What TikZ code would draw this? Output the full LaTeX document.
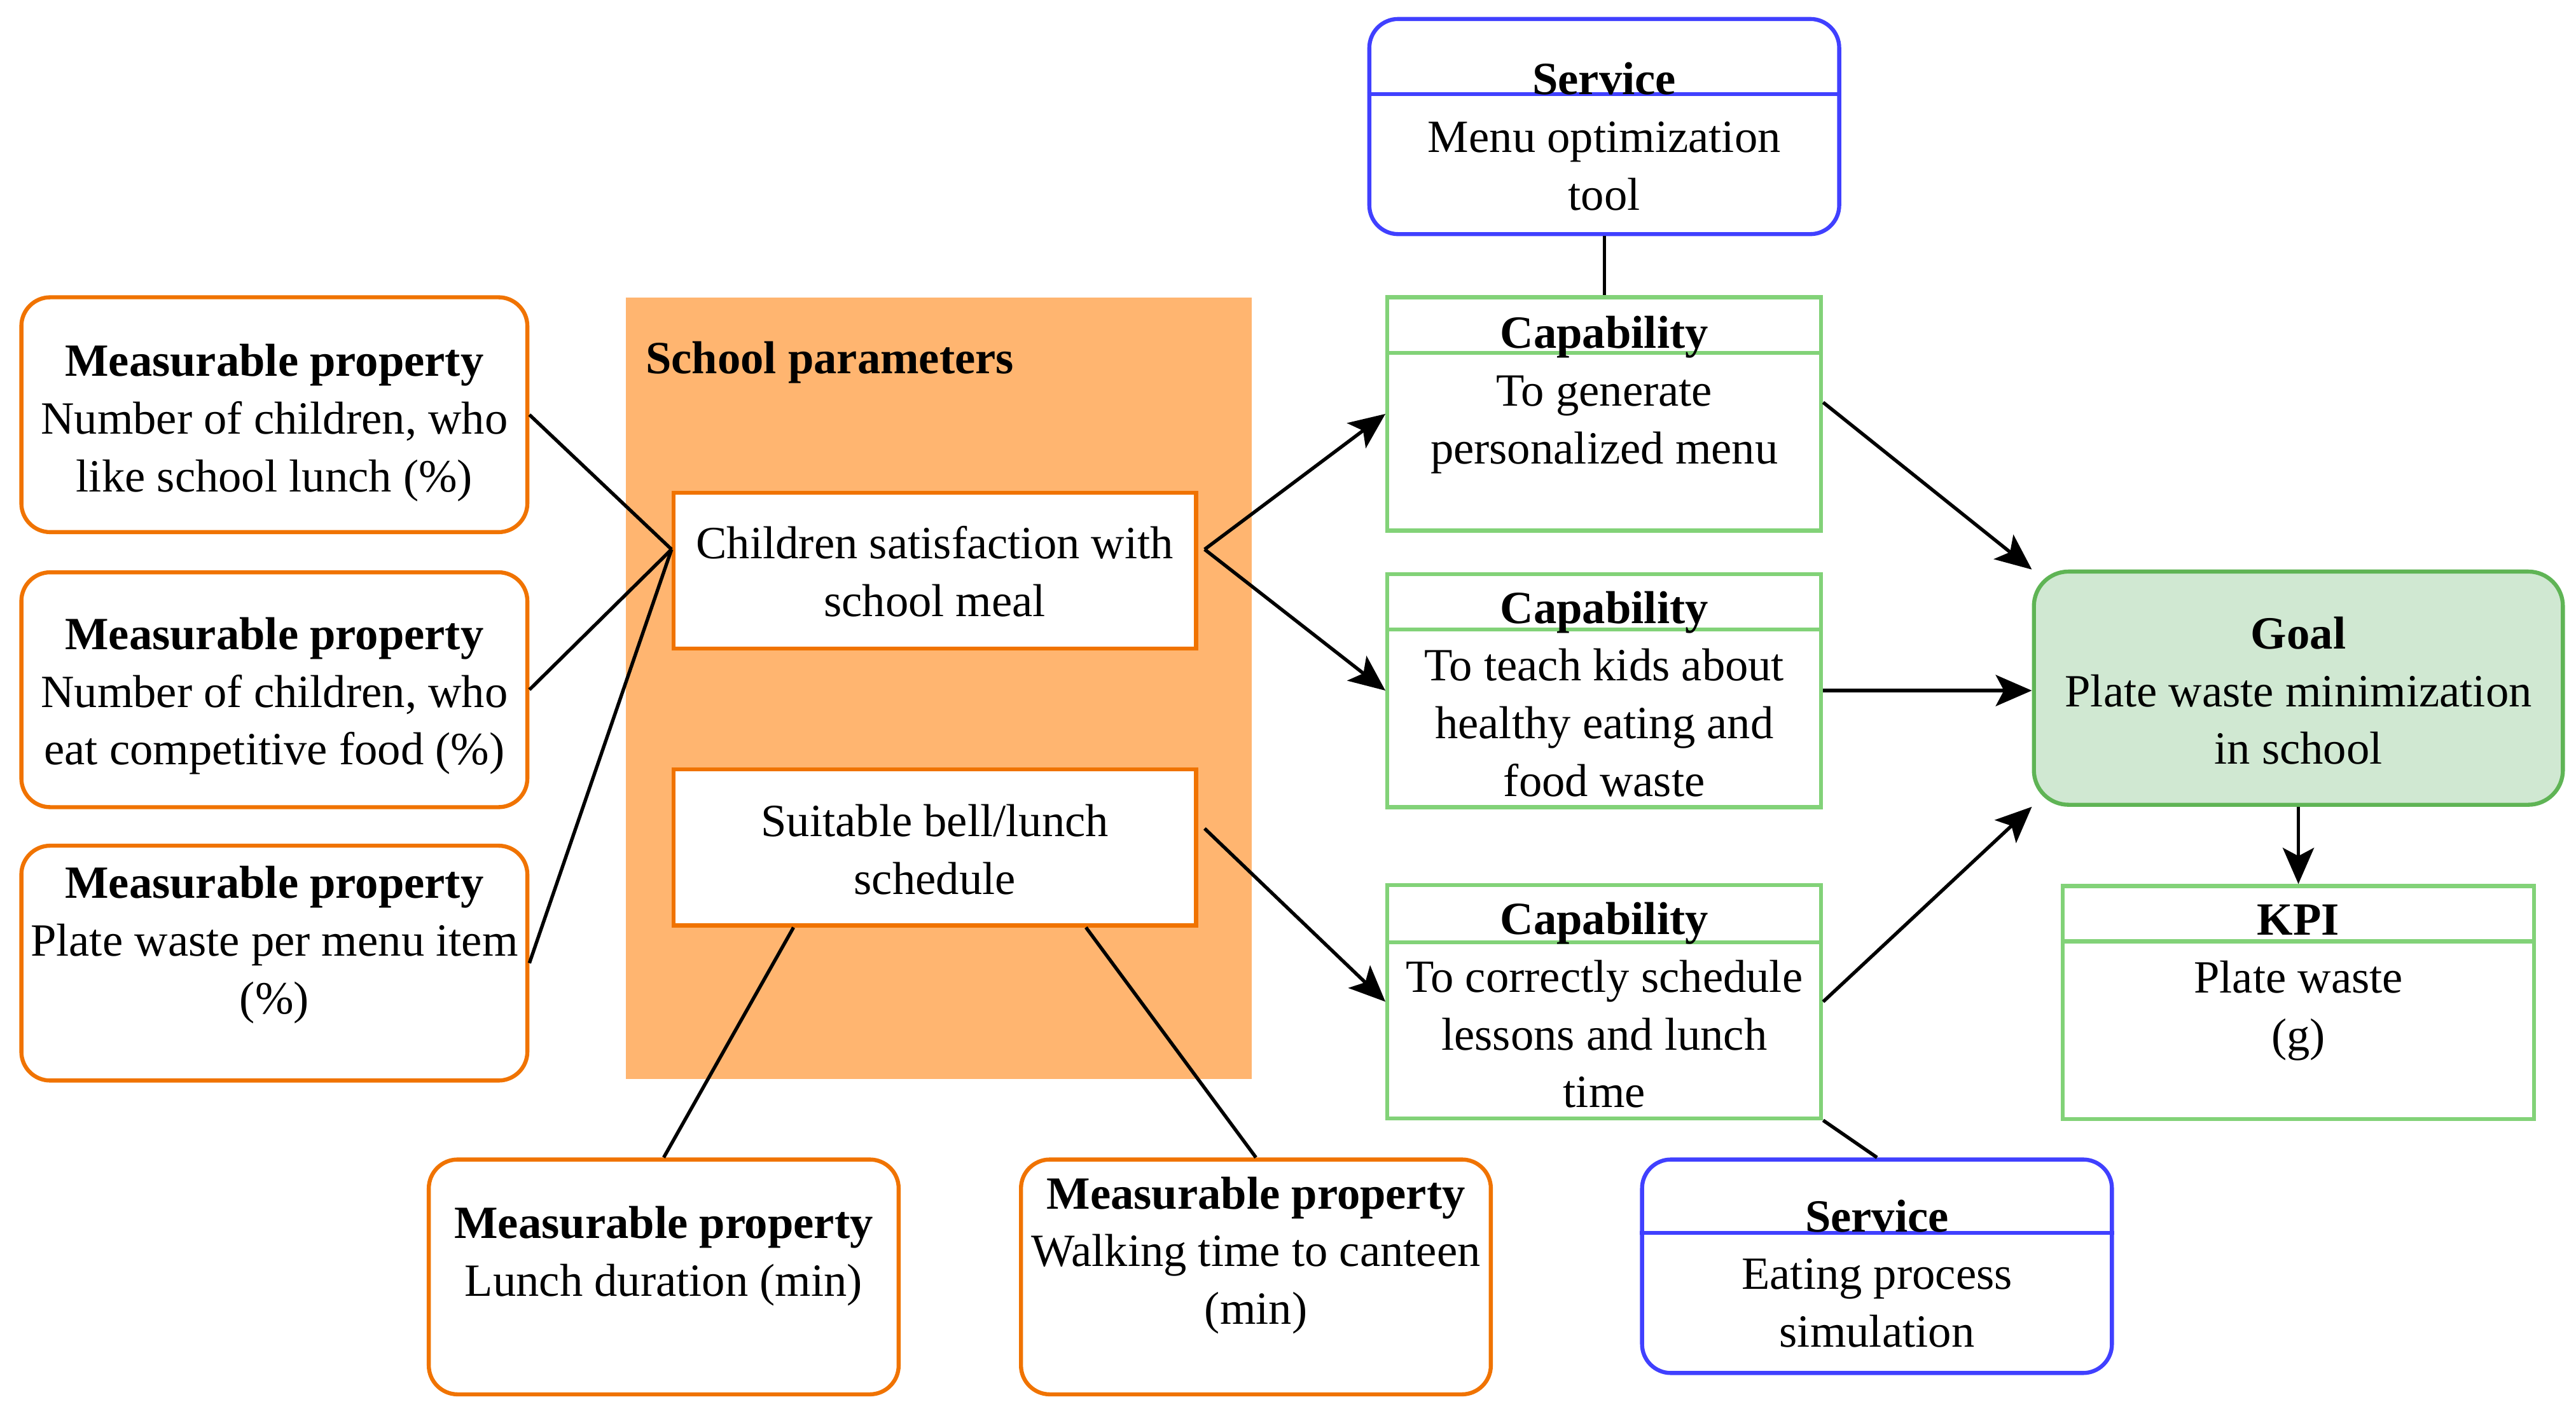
\documentclass[tikz,border=0pt]{standalone}
\usepackage{fontspec}
\setmainfont{Liberation Serif}
\usepackage{tikz}
\usetikzlibrary{arrows.meta, positioning}
\definecolor{mporange}{RGB}{240, 115, 0}
\definecolor{paramfill}{RGB}{255, 181, 112}
\definecolor{capgreen}{RGB}{130, 210, 120}
\definecolor{svcblue}{RGB}{64, 64, 255}
\definecolor{goalfill}{RGB}{208, 232, 210}
\definecolor{goalgreen}{RGB}{95, 180, 85}

\begin{document}
\begin{tikzpicture}[
  font=\fontsize{8}{10}\selectfont,
  mpbox/.style={draw=mporange, line width=0.7pt, rounded corners=5pt,
                minimum width=3.08cm, minimum height=1.43cm, inner sep=0pt},
  parambox/.style={fill=paramfill, minimum width=3.81cm, minimum height=4.76cm, inner sep=0pt},
  innerbox/.style={draw=mporange, fill=white, line width=0.7pt,
                   minimum width=3.18cm, minimum height=0.95cm, inner sep=0pt},
  capbox/.style={draw=capgreen, line width=0.7pt, minimum width=2.64cm,
                 minimum height=1.42cm, inner sep=0pt},
  svcbox/.style={draw=svcblue, line width=0.7pt, rounded corners=5pt,
                 minimum width=2.86cm, minimum height=1.31cm, inner sep=0pt},
  goalbox/.style={draw=goalgreen, fill=goalfill, line width=0.7pt, rounded corners=6pt,
                  minimum width=3.22cm, minimum height=1.42cm, inner sep=0pt},
  txt/.style={align=center, inner sep=0pt},
  link/.style={line width=0.6pt},
  flow/.style={line width=0.6pt, -{Stealth[length=0.22cm, width=0.19cm, inset=0.05cm]}}
]
  \useasboundingbox (0,0) rectangle (15.68,-8.62);

  % left column
  \node[mpbox] (mp1) at (1.67,-2.525) {};
  \node[mpbox, below=0.22cm of mp1] (mp2) {};
  \node[mpbox, below=0.21cm of mp2] (mp3) {};

  % school parameters
  \node[parambox] (params) at (5.715,-4.19) {};
  \node[innerbox] (child) at (5.69,-3.475) {};
  \node[innerbox, below=0.71cm of child] (bell) {};

  \node[mpbox, minimum width=2.86cm] (mp4) at (4.04,-7.775) {};
  \node[mpbox, minimum width=2.86cm, right=0.72cm of mp4] (mp5) {};

  % capabilities and services
  \node[capbox] (cap1) at (9.765,-2.52) {};
  \node[capbox, below=0.24cm of cap1] (cap2) {};
  \node[capbox, below=0.45cm of cap2] (cap3) {};
  \node[svcbox, above=0.36cm of cap1] (svc1) {};
  \node[svcbox, minimum height=1.30cm] (svc2) at (11.425,-7.71) {};

  % goal and kpi
  \node[goalbox] (goal) at (13.99,-4.19) {};
  \node[capbox, minimum width=2.87cm, below=0.47cm of goal] (kpi) {};

  \draw[svcblue, line width=0.7pt] ([yshift=-0.47cm]svc1.north west) -- ([yshift=-0.47cm]svc1.north east);
  \draw[svcblue, line width=0.7pt] ([yshift=-0.46cm]svc2.north west) -- ([yshift=-0.46cm]svc2.north east);
  \draw[capgreen, line width=0.7pt] ([yshift=-0.35cm]cap1.north west) -- ([yshift=-0.35cm]cap1.north east);
  \draw[capgreen, line width=0.7pt] ([yshift=-0.35cm]cap2.north west) -- ([yshift=-0.35cm]cap2.north east);
  \draw[capgreen, line width=0.7pt] ([yshift=-0.36cm]cap3.north west) -- ([yshift=-0.36cm]cap3.north east);
  \draw[capgreen, line width=0.7pt] ([yshift=-0.35cm]kpi.north west) -- ([yshift=-0.35cm]kpi.north east);

  % texts
  \node[txt, below=0.29cm of mp1.north] (mp1txt)
    {\textbf{Measurable property}\\Number of children, who\\like school lunch (\%)};
  \node[txt, below=0.28cm of mp2.north] (mp2txt)
    {\textbf{Measurable property}\\Number of children, who\\eat competitive food (\%)};
  \node[txt, below=0.13cm of mp3.north] (mp3txt)
    {\textbf{Measurable property}\\Plate waste per menu item\\(\%)};
  \node[txt, below=0.29cm of mp4.north] (mp4txt)
    {\textbf{Measurable property}\\Lunch duration (min)};
  \node[txt, below=0.11cm of mp5.north] (mp5txt)
    {\textbf{Measurable property}\\Walking time to canteen\\(min)};
  \node[txt, below right=0.27cm and 0.12cm of params.north west] (paramstxt)
    {\textbf{School parameters}};
  \node[txt, below=0.21cm of child.north] (childtxt)
    {Children satisfaction with\\school meal};
  \node[txt, below=0.22cm of bell.north] (belltxt)
    {Suitable bell/lunch\\schedule};
  \node[txt, below=0.27cm of svc1.north] (svc1txt)
    {\textbf{Service}\\Menu optimization\\tool};
  \node[txt, below=0.12cm of cap1.north] (cap1txt)
    {\textbf{Capability}\\To generate\\personalized menu};
  \node[txt, below=0.11cm of cap2.north] (cap2txt)
    {\textbf{Capability}\\To teach kids about\\healthy eating and\\food waste};
  \node[txt, below=0.11cm of cap3.north] (cap3txt)
    {\textbf{Capability}\\To correctly schedule\\lessons and lunch\\time};
  \node[txt, below=0.25cm of svc2.north] (svc2txt)
    {\textbf{Service}\\Eating process\\simulation};
  \node[txt, below=0.28cm of goal.north] (goaltxt)
    {\textbf{Goal}\\Plate waste minimization\\in school};
  \node[txt, below=0.12cm of kpi.north] (kpitxt)
    {\textbf{KPI}\\Plate waste\\(g)};

  % connectors
  \coordinate (childin) at ([yshift=0.13cm]child.west);
  \coordinate (childout) at ([xshift=0.04cm, yshift=0.13cm]child.east);
  \coordinate (bellout) at ([xshift=0.04cm, yshift=0.115cm]bell.east);

  \draw[link] (mp1.east) -- (childin);
  \draw[link] (mp2.east) -- (childin);
  \draw[link] (mp3.east) -- (childin);
  \draw[link] ([xshift=-0.86cm]bell.south) -- (mp4.north);
  \draw[link] ([xshift=0.92cm]bell.south) -- (mp5.north);
  \draw[link] (svc1.south) -- (cap1.north);
  \draw[link] (cap3.south east) -- (svc2.north);

  \draw[flow] (childout) -- (cap1.west);
  \draw[flow] (childout) -- (cap2.west);
  \draw[flow] (bellout) -- (cap3.west);
  \draw[flow] ([yshift=0.07cm]cap1.east) -- (goal.north west);
  \draw[flow] (cap2.east) -- (cap2.east -| goal.west);
  \draw[flow] (cap3.east) -- (goal.south west);
  \draw[flow] (goal.south) -- (kpi.north);
\end{tikzpicture}
\end{document}
